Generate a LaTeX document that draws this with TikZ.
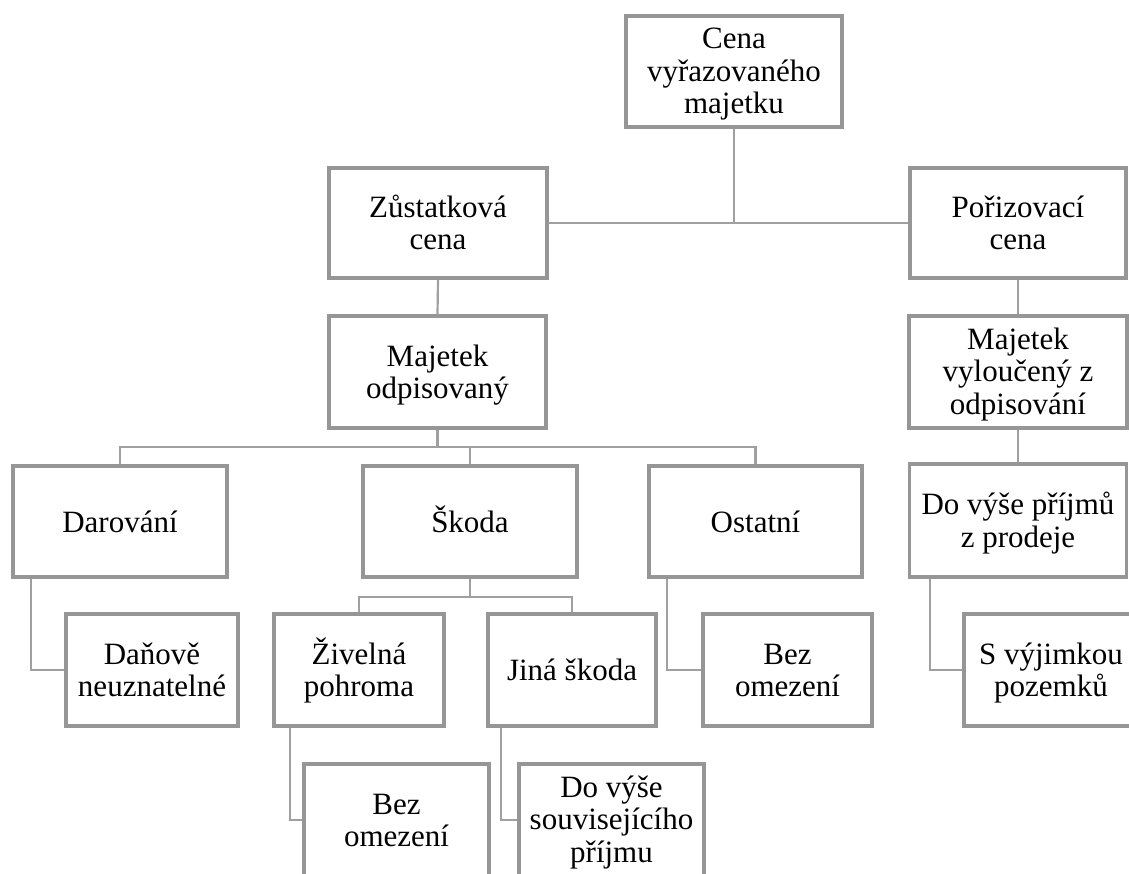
\documentclass[tikz,border=0pt]{standalone}
\usepackage{fontspec}
\setmainfont{Liberation Serif}
\definecolor{boxline}{RGB}{150,150,150}
\definecolor{edge}{RGB}{160,160,160}
\tikzset{
  box/.style={draw=boxline, line width=3.4pt, fill=white, rectangle, inner sep=0pt,
    align=center, font=\fontsize{31}{32.5}\selectfont, minimum height=111pt},
  % fixed text box sizes so that the lines sit alike in every box
  one/.style={text height=21pt, text depth=0pt},
  two/.style={text height=54.5pt, text depth=1.5pt},
  three/.style={text height=87pt, text depth=3pt},
  link/.style={draw=edge, line width=2.2pt}
}
\begin{document}
\begin{tikzpicture}[x=1pt, y=-1pt]
\useasboundingbox (0,0) rectangle (1129,873);
\clip (0,0) rectangle (1129,873);

% level 0 and 1
\node[box, three, minimum width=216pt] (top) at (734,71.5) {Cena\\vyřazovaného\\majetku};
\node[box, two, minimum width=218pt, minimum height=110pt] (zust) at (438,223) {Zůstatková\\cena};
\node[box, two, minimum width=216pt, minimum height=110pt] (pori) at (1018,223) {Pořizovací\\cena};

% level 2
\node[box, two, minimum width=217pt, minimum height=112pt] (majodp) at (437.5,372) {Majetek\\odpisovaný};
\node[box, three, minimum width=218pt, minimum height=112pt] (majvyl) at (1018,372) {Majetek\\vyloučený z\\odpisování};

% level 3
\node[box, one, minimum width=214pt] (darov) at (120,521.5) {Darování};
\node[box, one, minimum width=214pt] (skoda) at (470,521.5) {Škoda};
\node[box, one, minimum width=213pt] (ostat) at (755.5,521.5) {Ostatní};
\node[box, two, minimum width=217pt, minimum height=113pt] (dvp) at (1018,520.5) {Do výše příjmů\\z prodeje};

% level 4
\node[box, two, minimum width=172pt, minimum height=112pt] (danove) at (152,670) {Daňově\\neuznatelné};
\node[box, two, minimum width=170pt, minimum height=112pt] (ziv) at (359,670) {Živelná\\pohroma};
\node[box, one, minimum width=168pt, minimum height=112pt] (jina) at (572,670) {Jiná škoda};
\node[box, two, minimum width=169pt, minimum height=112pt] (bezb) at (787.5,670) {Bez\\omezení};
\node[box, two, minimum width=174pt, minimum height=112pt] (svyj) at (1051,670) {S výjimkou\\pozemků};

% level 5
\node[box, two, minimum width=185pt, minimum height=112pt] (beza) at (396.5,820) {Bez\\omezení};
\node[box, three, minimum width=185pt, minimum height=112pt] (dovs) at (611.5,820) {Do výše\\souvisejícího\\příjmu};

% junction points of the buses
\coordinate (bus0) at (734,223);
\coordinate (bus1) at (437.5,447);
\coordinate (bus2) at (470,597);

% connectors
\draw[link] (top.south) -- (bus0);
\draw[link] (zust.east) -- (pori.west);
\draw[link] (zust.south) -- (majodp.north);
\draw[link] (pori.south) -- (majvyl.north);
\draw[link] (majvyl.south) -- (dvp.north);

\draw[link] (majodp.south) -- (bus1);
\draw[link] (darov.north) -- (darov.north |- bus1) -- (ostat.north |- bus1) -- (ostat.north);
\draw[link] (skoda.north) -- (skoda.north |- bus1);

\draw[link] (skoda.south) -- (bus2);
\draw[link] (ziv.north) -- (ziv.north |- bus2) -- (jina.north |- bus2) -- (jina.north);

\draw[link] ([xshift=20pt]darov.south west) |- (danove.west);
\draw[link] ([xshift=20pt]ostat.south west) |- (bezb.west);
\draw[link] ([xshift=22pt]dvp.south west) |- (svyj.west);
\draw[link] ([xshift=18pt]ziv.south west) |- (beza.west);
\draw[link] ([xshift=15pt]jina.south west) |- (dovs.west);
\end{tikzpicture}
\end{document}
